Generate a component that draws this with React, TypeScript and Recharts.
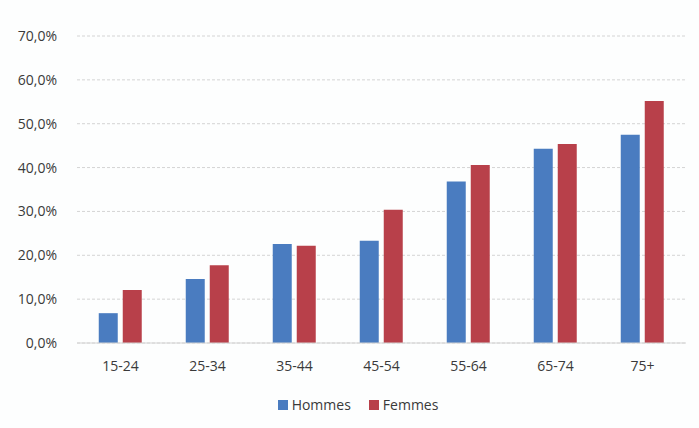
import { BarChart, Bar, XAxis, YAxis, CartesianGrid, Legend } from "recharts";

const ageGroups = ["15-24", "25-34", "35-44", "45-54", "55-64", "65-74", "75+"];
const hommes = [6.8, 14.6, 22.6, 23.3, 36.8, 44.3, 47.5];
const femmes = [12.1, 17.7, 22.2, 30.4, 40.6, 45.4, 55.2];
const yTicks = [0, 10, 20, 30, 40, 50, 60, 70];
const seriesNames = ["Hommes", "Femmes"];
const seriesColors = ["#4a7cc0", "#b8404a"];

const data = ageGroups.map((g, i) => ({ group: g, Hommes: hommes[i], Femmes: femmes[i] }));

const fmtPct = (v: number) => `${v.toFixed(1).replace(".", ",")}%`;

function LegendBox() {
  return (
    <div style={{ display: "flex", justifyContent: "center", gap: 18, paddingLeft: 30, fontSize: 14, fontFamily: "Open Sans", color: "#3a3a3a" }}>
      {seriesNames.map((n, i) => (
        <div key={n} style={{ display: "flex", alignItems: "center", gap: 4 }}>
          <span style={{ display: "inline-block", width: 10, height: 10, background: seriesColors[i] }} />
          <span>{n}</span>
        </div>
      ))}
    </div>
  );
}

export default function App() {
  return (
    <div style={{ position: "absolute", left: 0, top: 0, width: 699, height: 428, background: "#fdfefe" }}>
      <BarChart
        width={699}
        height={428}
        data={data}
        margin={{ top: 36, right: 13, left: 0, bottom: 32 }}
        barGap={5}
        barCategoryGap="25%"
      >
        <CartesianGrid stroke="#d4d4d4" strokeDasharray="3 2" vertical={false} />
        <XAxis
          dataKey="group"
          tickLine={false}
          axisLine={{ stroke: "#d4d4d4" }}
          tick={{ fontSize: 14, fill: "#3a3a3a", fontFamily: "Open Sans" }}
          tickMargin={12}
          height={34}
        />
        <YAxis
          domain={[0, 70]}
          ticks={yTicks}
          tickFormatter={fmtPct}
          tickLine={false}
          axisLine={false}
          tick={{ fontSize: 14, fill: "#3a3a3a", fontFamily: "Open Sans" }}
          width={77}
          tickMargin={14}
        />
        <Legend verticalAlign="bottom" content={<LegendBox />} wrapperStyle={{ bottom: 14 }} />
        <Bar dataKey="Hommes" fill={seriesColors[0]} isAnimationActive={false} />
        <Bar dataKey="Femmes" fill={seriesColors[1]} isAnimationActive={false} />
      </BarChart>
    </div>
  );
}
